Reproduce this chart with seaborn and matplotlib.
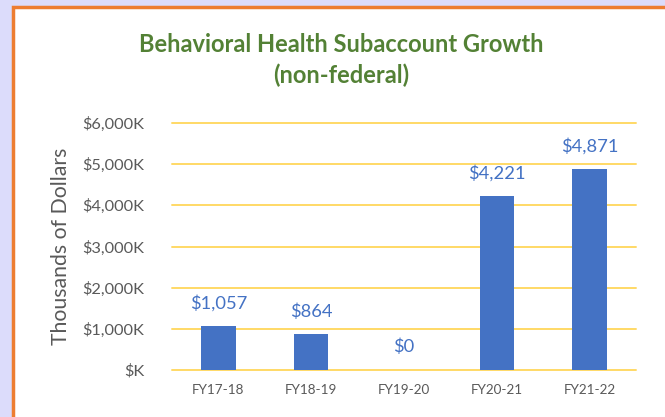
import matplotlib
matplotlib.use("Agg")
from matplotlib import pyplot as plt
from matplotlib.patches import Rectangle
import pandas as pd
import seaborn as sns

# chart data (thousands of dollars)
years = ["FY17-18", "FY18-19", "FY19-20", "FY20-21", "FY21-22"]
growth = [1057, 864, 0, 4221, 4871]
yticks = [0, 1000, 2000, 3000, 4000, 5000, 6000]

df = pd.DataFrame({"Year": years, "Growth": growth})

sns.set_style("white")
plt.rcParams["font.family"] = ["Lato", "DejaVu Sans"]

blue = "#4472c4"
grey = "#595959"

fig = plt.figure(figsize=(6.65, 4.17), dpi=100, facecolor="#dcdcfb")
# white chart card with orange border
card = Rectangle((13 / 665, -0.1), 1.1, 1 - 7 / 417 + 0.1, transform=fig.transFigure,
                 facecolor="white", edgecolor="#ed7d31", linewidth=2.5, zorder=-5)
fig.patches.append(card)

ax = fig.add_axes([172 / 665, 1 - 370 / 417, 464 / 665, 247 / 417])
ax.set_zorder(2)
ax.set_facecolor("none")
sns.barplot(data=df, x="Year", y="Growth", color=blue, width=0.37, saturation=1,
            linewidth=0, ax=ax, zorder=3)

ax.set_ylim(0, 6000)
ax.set_xlim(-0.5, 4.5)
ax.set_yticks(yticks)
ax.set_yticklabels(["$K" if v == 0 else "${:,}K".format(v) for v in yticks])
ax.yaxis.grid(True, color="#ffd966", linewidth=1.4, zorder=0)
for gl in ax.get_ygridlines():
    gl.set_clip_on(False)
ax.set_axisbelow(True)
for s in ax.spines.values():
    s.set_visible(False)
ax.tick_params(axis="both", length=0, colors=grey)
ax.tick_params(axis="y", labelsize=11.8, pad=20)
ax.tick_params(axis="x", labelsize=9.7, pad=10)
ax.set_xlabel("")
ax.set_ylabel("Thousands of Dollars", fontsize=15.3, color=grey, labelpad=8)

# value labels
for i, v in enumerate(growth):
    ax.annotate("${:,}".format(v), (i, v), xytext=(0, 16.5), textcoords="offset points",
                ha="center", va="center", color=blue, fontsize=13.2)

fig.text(0.513, 1 - 45 / 417, "Behavioral Health Subaccount Growth", ha="center", va="center",
         fontsize=17, fontweight="bold", color="#538135")
fig.text(0.513, 1 - 75 / 417, "(non-federal)", ha="center", va="center",
         fontsize=17, fontweight="bold", color="#538135")

plt.savefig("out.png", dpi=100, facecolor=fig.get_facecolor())
